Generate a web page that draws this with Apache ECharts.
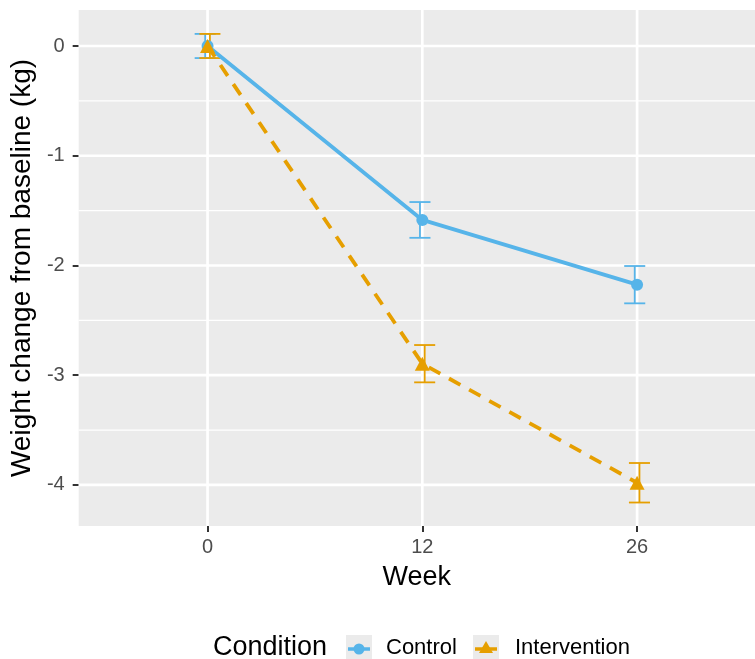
<!DOCTYPE html>
<html>
<head>
<meta charset="utf-8">
<script src="https://cdn.jsdelivr.net/npm/echarts@6/dist/echarts.min.js"></script>
<style>
  html, body { margin: 0; padding: 0; background: #ffffff; }
  #chart { width: 755px; height: 659px; }
</style>
</head>
<body>
<div id="chart"></div>
<script>
// ---- data ----
const weeks = ['0', '12', '26'];
const controlMean = [0, -1.585, -2.175];
const controlSE = [0.11, 0.163, 0.17];
const interventionMean = [0, -2.895, -3.98];
const interventionSE = [0.11, 0.17, 0.18];
const yTicks = [0, -1, -2, -3, -4];
const yMinor = [-0.5, -1.5, -2.5, -3.5];

const FONT = '"Liberation Sans", Arial, Helvetica, sans-serif';
const BLUE = '#56B4E9';
const ORANGE = '#E69F00';
const DODGE = 0.011;
const WHISK = 0.049;

const xIdx = weeks.map((w, i) => i);

function errData(mean, se, off) {
  return mean.map((m, i) => [i + off, m - se[i], m + se[i]]);
}

function errRender(color) {
  return function (params, api) {
    const x = api.value(0), lo = api.value(1), hi = api.value(2);
    const pt = api.coord([x, hi]);
    const pb = api.coord([x, lo]);
    const hw = api.size([WHISK, 0])[0];
    const st = { stroke: color, lineWidth: 1.8 };
    return {
      type: 'group',
      children: [
        { type: 'line', shape: { x1: pt[0], y1: pt[1], x2: pb[0], y2: pb[1] }, style: st },
        { type: 'line', shape: { x1: pt[0] - hw, y1: pt[1], x2: pt[0] + hw, y2: pt[1] }, style: st },
        { type: 'line', shape: { x1: pb[0] - hw, y1: pb[1], x2: pb[0] + hw, y2: pb[1] }, style: st }
      ]
    };
  };
}

function hLineRender(width) {
  return function (params, api) {
    const cs = params.coordSys;
    const y = api.coord([0, api.value(1)])[1];
    return { type: 'line', shape: { x1: cs.x, y1: y, x2: cs.x + cs.width, y2: y },
      style: { stroke: '#ffffff', lineWidth: width }, silent: true };
  };
}
function vLineRender(width) {
  return function (params, api) {
    const cs = params.coordSys;
    const x = api.coord([api.value(0), 0])[0];
    return { type: 'line', shape: { x1: x, y1: cs.y, x2: x, y2: cs.y + cs.height },
      style: { stroke: '#ffffff', lineWidth: width }, silent: true };
  };
}

const chart = echarts.init(document.getElementById('chart'), null, { renderer: 'canvas' });

const option = {
  animation: false,
  backgroundColor: '#ffffff',
  textStyle: { fontFamily: FONT },
  grid: {
    left: 78, top: 10, right: 0, height: 516,
    show: true, backgroundColor: '#EBEBEB', borderWidth: 0
  },
  xAxis: {
    type: 'value',
    min: -0.6, max: 2.549,
    name: 'Week',
    nameLocation: 'middle',
    nameGap: 38,
    nameTextStyle: { fontSize: 27, color: '#000000', fontFamily: FONT },
    axisLine: { show: false, onZero: false },
    axisTick: { show: true, customValues: xIdx, length: 6, lineStyle: { color: '#333333', width: 2 } },
    axisLabel: {
      customValues: xIdx, margin: 11, fontSize: 20, color: '#4D4D4D', fontFamily: FONT,
      formatter: v => weeks[Math.round(v)]
    },
    splitLine: { show: false }
  },
  yAxis: {
    type: 'value',
    min: -4.374, max: 0.328,
    name: 'Weight change from baseline (kg)',
    nameLocation: 'middle',
    nameGap: 39,
    nameTextStyle: { fontSize: 28, color: '#000000', fontFamily: FONT },
    axisLine: { show: false, onZero: false },
    axisTick: { show: true, customValues: yTicks, length: 6, lineStyle: { color: '#333333', width: 2 } },
    axisLabel: {
      customValues: yTicks, margin: 14, fontSize: 20, color: '#4D4D4D', fontFamily: FONT,
      formatter: v => String(Math.round(v))
    },
    splitLine: { show: false }
  },
  series: [
    { type: 'custom', name: 'minorY', silent: true, z: 1, renderItem: hLineRender(1.4),
      data: yMinor.map(v => [0, v]) },
    { type: 'custom', name: 'majorY', silent: true, z: 1, renderItem: hLineRender(2.7),
      data: yTicks.map(v => [0, v]) },
    { type: 'custom', name: 'majorX', silent: true, z: 1, renderItem: vLineRender(2.7),
      data: xIdx.map(v => [v, 0]) },
    { type: 'custom', name: 'Control err', z: 3, renderItem: errRender(BLUE),
      data: errData(controlMean, controlSE, -DODGE), encode: { x: 0, y: [1, 2] } },
    { type: 'custom', name: 'Intervention err', z: 3, renderItem: errRender(ORANGE),
      data: errData(interventionMean, interventionSE, DODGE), encode: { x: 0, y: [1, 2] } },
    { type: 'line', name: 'Control', z: 4,
      data: controlMean.map((m, i) => [i, m]),
      lineStyle: { color: BLUE, width: 3.8 },
      itemStyle: { color: BLUE },
      symbol: 'circle', symbolSize: 12, showSymbol: true },
    { type: 'line', name: 'Intervention', z: 5,
      data: interventionMean.map((m, i) => [i, m]),
      lineStyle: { color: ORANGE, width: 3.8, type: [13, 10] },
      itemStyle: { color: ORANGE },
      symbol: 'triangle', symbolSize: [15, 14], showSymbol: true }
  ],
  graphic: [
    { type: 'text', left: 213, top: 634, style: { text: 'Condition', font: '27px ' + FONT, fill: '#000000' } },
    { type: 'rect', shape: { x: 346, y: 635, width: 26, height: 26 }, style: { fill: '#EBEBEB' } },
    { type: 'line', shape: { x1: 348, y1: 649, x2: 370, y2: 649 }, style: { stroke: BLUE, lineWidth: 3.5 } },
    { type: 'circle', shape: { cx: 359, cy: 649, r: 5.5 }, style: { fill: BLUE } },
    { type: 'text', left: 386, top: 637, style: { text: 'Control', font: '22px ' + FONT, fill: '#000000' } },
    { type: 'rect', shape: { x: 473, y: 635, width: 26, height: 26 }, style: { fill: '#EBEBEB' } },
    { type: 'line', shape: { x1: 475, y1: 649, x2: 497, y2: 649 }, style: { stroke: ORANGE, lineWidth: 3.5 } },
    { type: 'polygon', shape: { points: [[486, 641], [493, 653], [479, 653]] }, style: { fill: ORANGE } },
    { type: 'text', left: 515, top: 637, style: { text: 'Intervention', font: '22px ' + FONT, fill: '#000000' } }
  ]
};

chart.setOption(option);
</script>
</body>
</html>
